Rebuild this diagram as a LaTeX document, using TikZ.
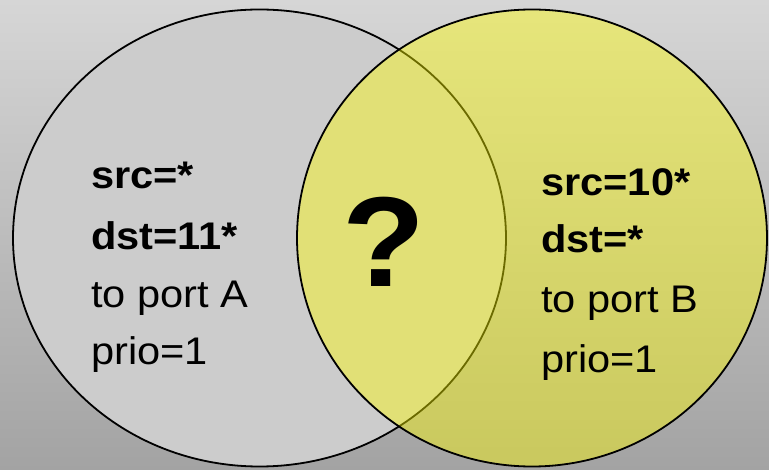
\documentclass[tikz,border=0pt]{standalone}
\usepackage{fontspec}
\setmainfont{Liberation Sans}
\usetikzlibrary{shapes.geometric}
\definecolor{bgtop}{RGB}{214,214,214}
\definecolor{bgbottom}{RGB}{163,163,163}
\definecolor{setgray}{RGB}{204,204,204}
\definecolor{setyellow}{RGB}{255,253,0}
\tikzset{
  setshape/.style={ellipse, inner sep=0pt, draw=black, line width=1.8pt},
  label/.style={anchor=base west, inner sep=0pt, text=black,
    font=\fontsize{38.5}{46}\selectfont},
}
\newcommand{\widetext}[1]{\scalebox{1.08}[1]{#1}}
\begin{document}
\begin{tikzpicture}[x=1pt,y=-1pt]
  % backdrop with a vertical gray gradient
  \shade[top color=bgtop, bottom color=bgbottom] (0,0) rectangle (769,470);
  \useasboundingbox (0,0) rectangle (769,470);

  % the two rule sets
  \node[setshape, fill=setgray, minimum width=493pt, minimum height=457pt]
    (setA) at (259.5,238) {};
  \node[setshape, fill=setyellow, fill opacity=0.42, draw opacity=1,
    minimum width=470pt, minimum height=457pt]
    (setB) at (532,238) {};

  % rule A
  \node[label] (a1) at (91,189) {\widetext{\bfseries src=*}};
  \node[label] (a2) at (91,250) {\widetext{\bfseries dst=11*}};
  \node[label] (a3) at (91,308) {\widetext{to port A}};
  \node[label] (a4) at (91,365) {\widetext{prio=1}};

  % rule B
  \node[label] (b1) at (541,196) {\widetext{\bfseries src=10*}};
  \node[label] (b2) at (541,253) {\widetext{\bfseries dst=*}};
  \node[label] (b3) at (541,313) {\widetext{to port B}};
  \node[label] (b4) at (541,373) {\widetext{prio=1}};

  % overlap
  \node[anchor=base, inner sep=0pt, font=\fontsize{128}{130}\selectfont\bfseries]
    (overlap) at (384,287) {\scalebox{1.06}[1]{?}};
\end{tikzpicture}
\end{document}
